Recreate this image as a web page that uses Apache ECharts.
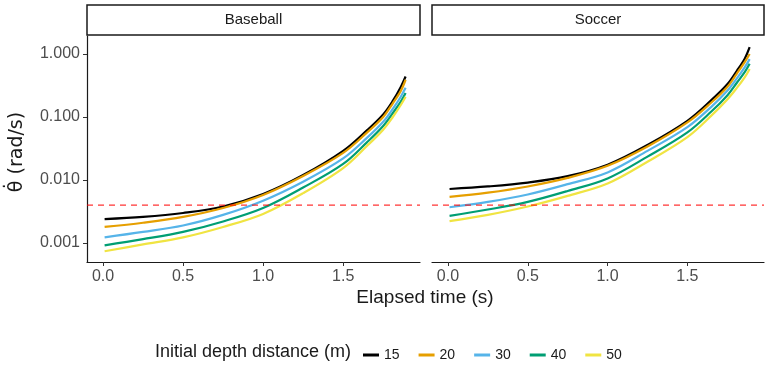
<!DOCTYPE html>
<html>
<head>
<meta charset="utf-8">
<script src="https://cdn.jsdelivr.net/npm/echarts@6/dist/echarts.min.js"></script>
<style>
  html, body { margin: 0; padding: 0; background: #ffffff; }
  #chart { width: 767px; height: 370px; }
</style>
</head>
<body>
<div id="chart"></div>
<script>
// elapsed time (s) where the curves were read
var times = [0.01, 0.25, 0.5, 0.75, 1.0, 1.25, 1.5, 1.65, 1.75, 1.81, 1.86, 1.89];
var depths = ['15', '20', '30', '40', '50'];
var colors = ['#000000', '#E69F00', '#56B4E9', '#009E73', '#F0E442'];

// Baseball panel, one array per initial depth
var baseball15 = [0.0024, 0.0026, 0.0030, 0.0038, 0.0060, 0.0120, 0.029, 0.062, 0.11, 0.18, 0.30, 0.44];
var baseball20 = [0.0018, 0.0021, 0.0026, 0.0036, 0.0058, 0.0116, 0.027, 0.057, 0.10, 0.165, 0.26, 0.39];
var baseball30 = [0.00123, 0.0015, 0.0019, 0.0028, 0.0047, 0.0094, 0.022, 0.047, 0.084, 0.135, 0.21, 0.29];
var baseball40 = [0.00092, 0.00115, 0.0015, 0.0022, 0.0036, 0.0076, 0.018, 0.040, 0.072, 0.115, 0.175, 0.24];
var baseball50 = [0.00074, 0.00095, 0.00123, 0.0018, 0.0029, 0.0062, 0.0155, 0.035, 0.063, 0.10, 0.155, 0.21];

// Soccer panel
var soccer15 = [0.0072, 0.0079, 0.0091, 0.0115, 0.0175, 0.036, 0.087, 0.185, 0.33, 0.54, 0.85, 1.28];
var soccer20 = [0.0054, 0.0063, 0.0079, 0.0108, 0.0168, 0.034, 0.082, 0.17, 0.30, 0.49, 0.75, 1.00];
var soccer30 = [0.0037, 0.0045, 0.0059, 0.0086, 0.0132, 0.029, 0.069, 0.145, 0.26, 0.41, 0.62, 0.83];
var soccer40 = [0.0027, 0.0034, 0.0045, 0.0067, 0.0106, 0.0235, 0.057, 0.122, 0.22, 0.35, 0.52, 0.70];
var soccer50 = [0.00222, 0.0028, 0.0038, 0.0056, 0.0088, 0.0195, 0.048, 0.105, 0.19, 0.29, 0.43, 0.58];

var threshold = 0.004;
var yTicks = [0.001, 0.01, 0.1, 1];
var xTicks = [0, 0.5, 1, 1.5];
var xMin = -0.1, xMax = 1.98;

var panels = [
	[baseball15, baseball20, baseball30, baseball40, baseball50],
	[soccer15, soccer20, soccer30, soccer40, soccer50]
];

var font = '"Liberation Sans", Arial, sans-serif';

function pairs(vals) {
	return times.map(function (t, i) { return [t, vals[i]]; });
}

var series = [];
panels.forEach(function (panel, p) {
	panel.forEach(function (vals, k) {
		series.push({
			name: depths[k],
			type: 'line',
			xAxisIndex: p,
			yAxisIndex: p,
			data: pairs(vals),
			smooth: 0.35,
			showSymbol: false,
			symbol: 'none',
			lineStyle: { color: colors[k], width: 2.2 },
			itemStyle: { color: colors[k] }
		});
	});
	// 红色虚线阈值
	series.push({
		name: 'threshold',
		type: 'line',
		xAxisIndex: p,
		yAxisIndex: p,
		data: [[xMin, threshold], [xMax, threshold]],
		showSymbol: false,
		symbol: 'none',
		silent: true,
		lineStyle: { color: '#ff0000', type: [6, 5], width: 1 }
	});
});

function xAxisOf(i) {
	return {
		type: 'value', gridIndex: i, min: xMin, max: xMax,
		axisLine: { show: true, onZero: false, lineStyle: { color: '#1a1a1a', width: 1.2 } },
		axisTick: { show: true, length: 4, lineStyle: { color: '#333333' }, customValues: xTicks },
		axisLabel: { color: '#4d4d4d', fontSize: 16, fontFamily: font, margin: 7,
			customValues: xTicks,
			formatter: function (v) { return v.toFixed(1); } },
		splitLine: { show: false }
	};
}

function yAxisOf(i) {
	return {
		type: 'log', logBase: 10, gridIndex: i, min: 0.0005, max: 1.93,
		axisLine: { show: i == 0, onZero: false, lineStyle: { color: '#1a1a1a', width: 1.2 } },
		axisTick: { show: i == 0, length: 4, lineStyle: { color: '#333333' }, customValues: yTicks },
		axisLabel: { show: i == 0, color: '#4d4d4d', fontSize: 16, fontFamily: font, margin: 7,
			customValues: yTicks,
			formatter: function (v) { return Number(v).toFixed(3); } },
		splitLine: { show: false }
	};
}

function strip(x, w, label) {
	return {
		type: 'group',
		children: [
			{ type: 'rect', shape: { x: x, y: 5, width: w, height: 30 },
			  style: { fill: '#ffffff', stroke: '#1a1a1a', lineWidth: 1.5 } },
			{ type: 'text', x: x + w / 2, y: 20,
			  style: { text: label, fill: '#1a1a1a', font: '15px ' + font, align: 'center', verticalAlign: 'middle' } }
		]
	};
}

var chart = echarts.init(document.getElementById('chart'));
var option = {
	backgroundColor: '#ffffff',
	animation: false,
	grid: [
		{ left: 87, top: 36, width: 333, height: 226 },
		{ left: 432, top: 36, width: 332, height: 226 }
	],
	xAxis: [xAxisOf(0), xAxisOf(1)],
	yAxis: [yAxisOf(0), yAxisOf(1)],
	legend: {
		data: depths,
		left: 358, top: 343,
		icon: 'rect', itemWidth: 16, itemHeight: 3, itemGap: 19,
		textStyle: { color: '#1a1a1a', fontSize: 14, fontFamily: font }
	},
	graphic: [
		strip(87, 333, 'Baseball'),
		strip(432, 332, 'Soccer'),
		{ type: 'text', x: 425, y: 298,
		  style: { text: 'Elapsed time (s)', fill: '#1a1a1a', font: '19px ' + font, align: 'center', verticalAlign: 'middle' } },
		{ type: 'text', x: 17, y: 152, rotation: Math.PI / 2,
		  style: { text: 'θ̇ (rad/s)', fill: '#1a1a1a', font: '19px "DejaVu Sans", sans-serif', align: 'center', verticalAlign: 'middle' } },
		{ type: 'text', x: 155, y: 352,
		  style: { text: 'Initial depth distance (m)', fill: '#1a1a1a', font: '18px ' + font, align: 'left', verticalAlign: 'middle' } }
	],
	series: series
};
chart.setOption(option);
</script>
</body>
</html>
